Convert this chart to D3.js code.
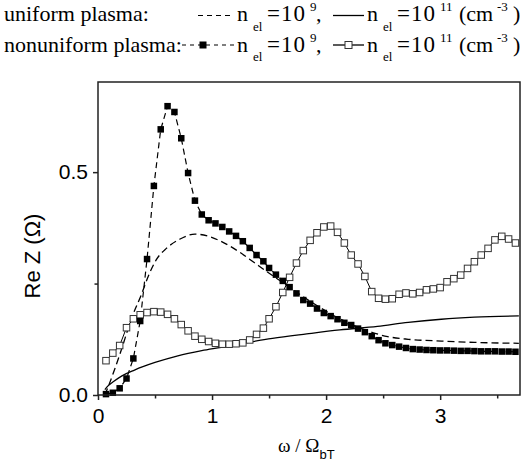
<!DOCTYPE html>
<html>
<head>
<meta charset="utf-8">
<script src="https://cdn.jsdelivr.net/npm/d3@7"></script>
<style>
  body { margin: 0; background: #fff; }
  svg { display: block; }
</style>
</head>
<body>
<svg id="chart" width="523" height="461"></svg>
<script>
// omega / Omega_bT grid of the nonuniform plasma runs
var omegaGrid = [0.07, 0.13, 0.19, 0.25, 0.31, 0.37, 0.43, 0.49, 0.55, 0.61,
  0.67, 0.73, 0.79, 0.85, 0.91, 0.97, 1.03, 1.09, 1.15, 1.21,
  1.27, 1.33, 1.39, 1.45, 1.50, 1.56, 1.62, 1.68, 1.74, 1.80,
  1.86, 1.92, 1.98, 2.04, 2.10, 2.16, 2.22, 2.28, 2.34, 2.40,
  2.46, 2.52, 2.58, 2.64, 2.70, 2.76, 2.82, 2.88, 2.94, 3.00,
  3.06, 3.12, 3.18, 3.24, 3.30, 3.36, 3.42, 3.48, 3.54, 3.60, 3.66];

// nonuniform plasma, n_el = 1e9 (filled squares)
var nonuni9 = [0.002, 0.005, 0.015, 0.037, 0.082, 0.166, 0.305, 0.469, 0.596, 0.648,
  0.635, 0.576, 0.498, 0.436, 0.405, 0.392, 0.385, 0.377, 0.367, 0.357,
  0.345, 0.330, 0.314, 0.300, 0.285, 0.270, 0.256, 0.242, 0.228, 0.213,
  0.205, 0.194, 0.184, 0.177, 0.170, 0.162, 0.157, 0.149, 0.141, 0.132,
  0.123, 0.116, 0.112, 0.1085, 0.1055, 0.103, 0.102, 0.101, 0.1005, 0.100,
  0.100, 0.0995, 0.099, 0.099, 0.0985, 0.098, 0.098, 0.098, 0.0975, 0.0975, 0.097];

// nonuniform plasma, n_el = 1e11 (open squares)
var nonuni11 = [0.077, 0.094, 0.111, 0.151, 0.171, 0.180, 0.185, 0.187, 0.186, 0.181,
  0.171, 0.158, 0.144, 0.132, 0.125, 0.120, 0.116, 0.114, 0.114, 0.115,
  0.117, 0.1235, 0.136, 0.150, 0.171, 0.198, 0.230, 0.264, 0.296, 0.324,
  0.347, 0.364, 0.377, 0.379, 0.365, 0.341, 0.314, 0.294, 0.266, 0.232,
  0.217, 0.215, 0.216, 0.226, 0.229, 0.227, 0.230, 0.236, 0.238, 0.241,
  0.254, 0.261, 0.269, 0.284, 0.299, 0.314, 0.329, 0.348, 0.356, 0.350, 0.341];

// uniform plasma, n_el = 1e9 (dashed)
var uni9X = [0.06, 0.09, 0.19, 0.30, 0.38, 0.44, 0.51, 0.60, 0.72, 0.85, 0.97, 1.10, 1.25,
  1.36, 1.48, 1.61, 1.71, 1.85, 2.00, 2.20, 2.42, 2.54, 2.72, 3.01, 3.30, 3.69];
var uni9Y = [0.0, 0.019, 0.090, 0.176, 0.225, 0.266, 0.303, 0.329, 0.350, 0.361, 0.356, 0.342, 0.319,
  0.299, 0.277, 0.254, 0.236, 0.212, 0.188, 0.161, 0.139, 0.131, 0.125, 0.121, 0.118, 0.116];

// uniform plasma, n_el = 1e11 (solid)
var uni11X = [0.06, 0.09, 0.13, 0.21, 0.32, 0.50, 0.70, 0.91, 1.08, 1.25, 1.53, 1.83, 2.12,
  2.45, 2.72, 3.01, 3.30, 3.69];
var uni11Y = [0.012, 0.021, 0.029, 0.043, 0.056, 0.073, 0.088, 0.0995, 0.107, 0.115, 0.127, 0.137, 0.146,
  0.154, 0.163, 0.170, 0.1745, 0.1775];

var xMajor = [0, 1, 2, 3];
var xMinor = [0.5, 1.5, 2.5, 3.5];
var yMajor = [0, 0.5];
var yMinor = [0.25];

var plotLeft = 98, plotRight = 520, plotTop = 82, plotBottom = 395;
var sans = "'Liberation Sans', Arial, Helvetica, sans-serif";
var serif = "'Liberation Serif', 'Times New Roman', serif";

var svg = d3.select("#chart");

var x = d3.scaleLinear().domain([0, 3.7]).range([plotLeft, plotRight]);
var y = d3.scaleLinear().domain([0, 0.7]).range([plotBottom, plotTop + 1]);

function zip(xs, ys) {
  return xs.map(function (v, i) { return [v, ys[i]]; });
}

var line = d3.line()
  .x(function (d) { return x(d[0]); })
  .y(function (d) { return y(d[1]); });
var smooth = d3.line()
  .curve(d3.curveMonotoneX)
  .x(function (d) { return x(d[0]); })
  .y(function (d) { return y(d[1]); });

var plot = svg.append("g");

// uniform curves
plot.append("path")
  .attr("d", smooth(zip(uni9X, uni9Y)))
  .attr("fill", "none").attr("stroke", "#000").attr("stroke-width", 1.3)
  .attr("stroke-dasharray", "7,4");
plot.append("path")
  .attr("d", smooth(zip(uni11X, uni11Y)))
  .attr("fill", "none").attr("stroke", "#000").attr("stroke-width", 1.3);

// nonuniform connecting lines
var pts9 = zip(omegaGrid, nonuni9);
var pts11 = zip(omegaGrid, nonuni11);
plot.append("path")
  .attr("d", line(pts11))
  .attr("fill", "none").attr("stroke", "#000").attr("stroke-width", 1);
plot.append("path")
  .attr("d", line(pts9))
  .attr("fill", "none").attr("stroke", "#000").attr("stroke-width", 1.2)
  .attr("stroke-dasharray", "6,4");

var sq = 6.5;
plot.selectAll("rect.open")
  .data(pts11)
  .enter().append("rect")
  .attr("class", "open")
  .attr("x", function (d) { return x(d[0]) - sq / 2; })
  .attr("y", function (d) { return y(d[1]) - sq / 2; })
  .attr("width", sq).attr("height", sq)
  .attr("fill", "#fff").attr("stroke", "#333").attr("stroke-width", 1);
plot.selectAll("rect.filled")
  .data(pts9)
  .enter().append("rect")
  .attr("class", "filled")
  .attr("x", function (d) { return x(d[0]) - sq / 2; })
  .attr("y", function (d) { return y(d[1]) - sq / 2; })
  .attr("width", sq).attr("height", sq)
  .attr("fill", "#000");

// frame
svg.append("rect")
  .attr("x", plotLeft).attr("y", plotTop)
  .attr("width", plotRight - plotLeft).attr("height", plotBottom - plotTop)
  .attr("fill", "none").attr("stroke", "#222").attr("stroke-width", 1.5);

// axes
function styleAxis(g) {
  g.select(".domain").remove();
  g.selectAll(".tick line").attr("stroke", "#222").attr("stroke-width", 1.5);
  g.selectAll(".tick text").attr("font-family", sans).attr("font-size", 21).attr("fill", "#000");
}

svg.append("g")
  .attr("transform", "translate(0," + plotBottom + ")")
  .call(d3.axisBottom(x).tickValues(xMajor).tickSize(5).tickPadding(8).tickFormat(d3.format("d")))
  .call(styleAxis);
svg.append("g")
  .attr("transform", "translate(0," + plotBottom + ")")
  .call(d3.axisBottom(x).tickValues(xMinor).tickSize(3.5).tickFormat(""))
  .call(styleAxis);
svg.append("g")
  .attr("transform", "translate(" + plotLeft + ",0)")
  .call(d3.axisLeft(y).tickValues(yMajor).tickSize(5).tickPadding(5).tickFormat(d3.format(".1f")))
  .call(styleAxis);
svg.append("g")
  .attr("transform", "translate(" + plotLeft + ",0)")
  .call(d3.axisLeft(y).tickValues(yMinor).tickSize(3.5).tickFormat(""))
  .call(styleAxis);

// axis titles
svg.append("text")
  .attr("transform", "rotate(-90)")
  .attr("x", -256).attr("y", 40)
  .attr("text-anchor", "middle")
  .attr("font-family", sans).attr("font-size", 22)
  .text("Re Z (\u03A9)");

var xt = svg.append("text")
  .attr("x", 278).attr("y", 452)
  .attr("font-family", serif).attr("font-size", 19);
xt.append("tspan").text("\u03C9 / \u03A9");
xt.append("tspan").attr("font-family", sans).attr("font-size", 13).attr("dy", 7).text("bT");

// legend: pieces placed by hand like the original typesetting
function label(xPos, yBase, sup) {
  var g = svg.append("g").attr("font-family", serif).attr("fill", "#000");
  g.append("text").attr("x", xPos).attr("y", yBase).attr("font-size", 22).text("n");
  g.append("text").attr("x", xPos + 16).attr("y", yBase + 9.5).attr("font-size", 13).text("el");
  g.append("text").attr("x", xPos + 30).attr("y", yBase).attr("font-size", 23)
    .attr("letter-spacing", 1).text("=10");
  g.append("text").attr("x", xPos + 73).attr("y", yBase - 10).attr("font-size", 13).text(sup);
  return g;
}
function units(g, xPos, yBase) {
  g.append("text").attr("x", xPos).attr("y", yBase).attr("font-size", 22).text("(cm");
  g.append("text").attr("x", xPos + 38).attr("y", yBase - 10).attr("font-size", 13).text("-3");
  g.append("text").attr("x", xPos + 54).attr("y", yBase).attr("font-size", 22).text(")");
}

svg.append("text").attr("x", 4).attr("y", 21)
  .attr("font-family", serif).attr("font-size", 22).text("uniform plasma:");
svg.append("text").attr("x", 4).attr("y", 51.5)
  .attr("font-family", serif).attr("font-size", 22).text("nonuniform plasma:");

// row 1
svg.append("line").attr("x1", 198).attr("x2", 233).attr("y1", 15.5).attr("y2", 15.5)
  .attr("stroke", "#000").attr("stroke-width", 1.2).attr("stroke-dasharray", "5,4");
var a1 = label(237, 21, "9");
a1.append("text").attr("x", 316).attr("y", 21).attr("font-size", 22).text(",");
svg.append("line").attr("x1", 333).attr("x2", 364).attr("y1", 15.5).attr("y2", 15.5)
  .attr("stroke", "#000").attr("stroke-width", 1.3);
var b1 = label(367, 21, "11");
units(b1, 459, 21);

// row 2
svg.append("line").attr("x1", 182).attr("x2", 235).attr("y1", 45).attr("y2", 45)
  .attr("stroke", "#000").attr("stroke-width", 1.2).attr("stroke-dasharray", "4,4");
svg.append("rect").attr("x", 199.5).attr("y", 41.5).attr("width", 7).attr("height", 7).attr("fill", "#000");
var a2 = label(237, 51.5, "9");
a2.append("text").attr("x", 316).attr("y", 51.5).attr("font-size", 22).text(",");
svg.append("line").attr("x1", 333).attr("x2", 364).attr("y1", 45).attr("y2", 45)
  .attr("stroke", "#000").attr("stroke-width", 1.3);
svg.append("rect").attr("x", 345).attr("y", 41.5).attr("width", 7).attr("height", 7)
  .attr("fill", "#fff").attr("stroke", "#333").attr("stroke-width", 1);
var b2 = label(367, 51.5, "11");
units(b2, 459, 51.5);
</script>
</body>
</html>
